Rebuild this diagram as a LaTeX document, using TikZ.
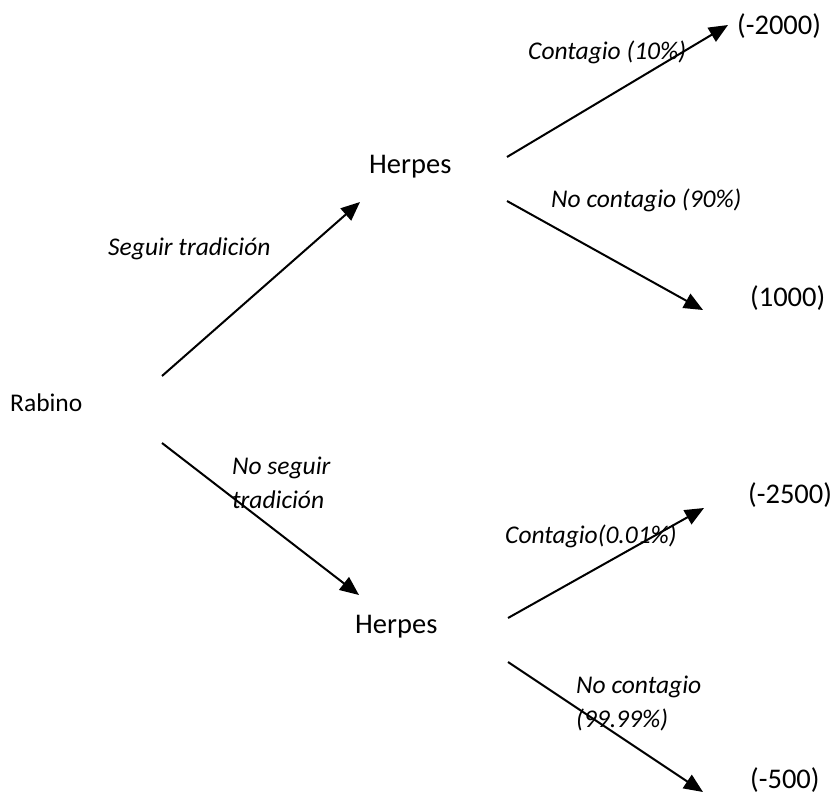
\documentclass[tikz,border=0pt]{standalone}
\usepackage{fontspec}
\setmainfont{Carlito}
\usetikzlibrary{arrows.meta}
\begin{document}
\begin{tikzpicture}
        [x=1pt, y=-1pt,
         every node/.style={inner sep=0pt, anchor=base west},
         player/.style={font=\fontsize{25.5}{30}\selectfont},
         chance/.style={font=\fontsize{28.5}{34}\selectfont},
         payoff/.style={font=\fontsize{28.5}{34}\selectfont},
         branch/.style={font=\fontsize{25.5}{34}\selectfont\itshape, align=left},
         arr/.style={line width=2pt, -{Triangle[length=19pt,width=16pt]}}]
        \useasboundingbox (0,0) rectangle (837,794);
        % decision and chance nodes
        \node[player] (rabino) at (10,411) {Rabino};
        \node[chance] (herA) at (369,174) {Herpes};
        \node[chance] (herB) at (355,633) {Herpes};
        % payoffs
        \node[payoff] (pA1) at (737,35) {(-2000)};
        \node[payoff] (pA2) at (750,306) {(1000)};
        \node[payoff] (pB1) at (748,503) {(-2500)};
        \node[payoff] (pB2) at (750,788) {(-500)};
        % branches
        \draw[arr] ([shift={(152,-35)}]rabino.base west) -- ([shift={(-9,28)}]herA.base west);
        \draw[arr] ([shift={(152,32)}]rabino.base west) -- ([shift={(4,-38)}]herB.base west);
        \draw[arr] ([shift={(138,-17)}]herA.base west) -- ([shift={(-9,-10)}]pA1.base west);
        \draw[arr] ([shift={(138,27)}]herA.base west) -- ([shift={(-47,4)}]pA2.base west);
        \draw[arr] ([shift={(153,-15)}]herB.base west) -- ([shift={(-44,5)}]pB1.base west);
        \draw[arr] ([shift={(153,29)}]herB.base west) -- ([shift={(-47,4)}]pB2.base west);
        % branch labels
        \node[branch] (lSeguir) at (108,255) {Seguir tradición};
        \node[branch] (lNoSeguir) at (232,508) {No seguir\\tradición};
        \node[branch] (lContA) at (528,60) {Contagio (10\%)};
        \node[branch] (lNoContA) at (551,208) {No contagio (90\%)};
        \node[branch] (lContB) at (505,543) {Contagio(0.01\%)};
        \node[branch] (lNoContB) at (576,727) {No contagio\\(99.99\%)};
    \end{tikzpicture}
\end{document}
